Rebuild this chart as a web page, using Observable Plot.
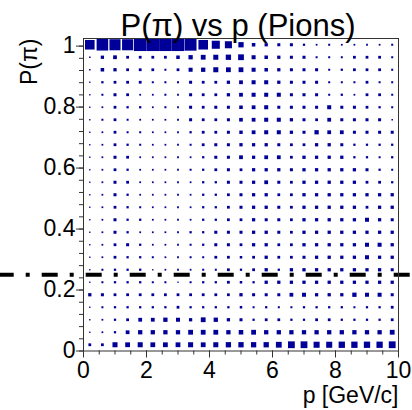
<!DOCTYPE html>
<html><head><meta charset="utf-8">
<script src="https://cdn.jsdelivr.net/npm/d3@7"></script>
<script src="https://cdn.jsdelivr.net/npm/@observablehq/plot@0.6"></script>
<style>body{margin:0;background:#fff}</style>
</head><body><div id="chart"></div>
<script>
const title = "P(π) vs p (Pions)";
const xLabel = "p [GeV/c]";
const yLabel = "P(π)";
const xTicks = [0, 2, 4, 6, 8, 10];
const yTicks = [0, 0.2, 0.4, 0.6, 0.8, 1];
const cutValue = [0.25];

// bin centres
const pCenters = [0.2,0.6,1.0,1.4,1.8,2.2,2.6,3.0,3.4,3.8,4.2,4.6,5.0,5.4,5.8,6.2,6.6,7.0,7.4,7.8,8.2,8.6,9.0,9.4,9.8];
const probCenters = [0.0205,0.0615,0.1025,0.1435,0.1845,0.2255,0.2665,0.3075,0.3485,0.3895,0.4305,0.4715,0.5125,0.5535,0.5945,0.6355,0.6765,0.7175,0.7585,0.7995,0.8405,0.8815,0.9225,0.9635,1.0045];

// bin contents (relative), rows listed from top (P≈1) to bottom (P≈0)
const counts = [
[76,92,88,88,100,100,100,100,94,76,64,56,42,28,26,24,24,18,14,16,14,14,14,14,16],
[12,26,30,22,22,22,22,28,34,38,40,42,46,32,28,26,24,24,16,16,16,22,22,22,16],
[12,28,26,22,22,22,16,22,32,34,40,38,38,32,28,26,24,24,24,16,18,22,22,22,16],
[10,18,22,22,22,16,16,16,24,22,22,26,30,32,32,26,24,24,24,16,16,16,22,16,16],
[10,16,24,22,14,14,16,14,24,22,22,26,30,32,32,32,24,24,24,16,18,14,22,22,16],
[10,14,22,18,18,14,16,14,24,22,24,24,28,30,32,24,24,24,24,32,24,24,22,18,16],
[10,16,22,16,14,14,14,14,24,22,22,24,29,30,32,32,26,24,22,30,24,24,24,24,12],
[10,14,22,16,16,14,14,14,18,22,22,24,27,30,32,32,26,24,34,30,30,24,24,24,24],
[10,14,22,18,16,14,14,14,16,22,24,24,26,26,26,24,22,22,26,26,24,18,18,18,18],
[10,14,24,22,14,14,14,14,14,18,24,24,30,26,30,30,22,26,26,26,26,18,18,16,18],
[10,14,22,18,14,14,14,14,16,18,22,24,22,26,26,26,24,26,26,26,26,26,24,18,16],
[10,14,24,22,14,14,14,14,14,18,18,24,24,26,30,24,22,26,26,26,26,26,22,22,18],
[10,14,24,18,14,14,14,14,14,18,18,22,24,26,26,22,22,26,26,26,26,26,26,26,26],
[10,14,22,18,16,14,14,14,14,18,18,22,24,26,26,24,22,26,26,26,26,26,22,26,26],
[10,14,24,18,18,14,14,14,14,18,18,22,22,26,24,24,22,26,26,26,26,26,32,26,24],
[10,14,24,18,14,14,14,14,18,18,24,24,24,26,26,24,22,26,26,26,26,26,26,26,26],
[10,14,22,24,18,14,14,14,16,18,24,24,22,26,26,22,22,26,26,26,26,26,32,32,26],
[10,14,22,18,18,16,14,14,16,16,22,22,20,22,26,22,22,24,26,26,26,26,32,26,26],
[10,16,18,18,18,10,14,14,14,16,16,22,18,22,26,18,26,26,26,26,26,26,26,26,24],
[10,16,18,18,18,16,16,10,16,18,18,22,20,18,26,26,26,26,26,26,26,26,26,26,26],
[26,24,22,22,22,22,22,22,22,22,22,22,26,24,24,24,30,32,26,26,26,34,32,32,24],
[10,16,18,18,18,18,18,22,18,18,18,18,20,16,18,16,16,18,18,18,18,16,18,18,22],
[10,14,18,22,30,30,34,32,26,38,34,26,24,18,22,22,18,18,22,22,18,18,18,18,22],
[10,14,18,30,34,34,34,34,38,38,38,34,36,38,34,34,34,34,34,34,34,34,34,34,38],
[22,22,40,38,40,38,38,38,40,38,40,42,42,42,42,46,54,54,48,48,50,50,50,50,54]
];

const cells = counts.flatMap((row, i) =>
  row.map((c, j) => ({p: pCenters[j], prob: probCenters[probCenters.length - 1 - i], count: c}))
);

const xMinor = d3.range(0, 21).map(k => k * 0.5);
const yMinor = d3.range(0, 26).map(k => +(k * 0.04).toFixed(2));
const font = "'Liberation Sans', Arial, Helvetica, sans-serif";
const binSide = 12.6;

const chart = Plot.plot({
  width: 412,
  height: 410,
  marginLeft: 83,
  marginRight: 14,
  marginTop: 38,
  marginBottom: 59.5,
  style: {fontFamily: font, fontSize: "23px", color: "black", background: "white"},
  x: {domain: [0, 10]},
  y: {domain: [0, 1.025]},
  r: {type: "linear", domain: [0, 100], range: [0, binSide / Math.sqrt(Math.PI)]},
  marks: [
    Plot.dot(cells, {x: "p", y: "prob", r: "count", symbol: "square", fill: "#000099"}),
    Plot.ruleY(cutValue, {stroke: "black", strokeWidth: 4, strokeDasharray: "16,12,4,12", strokeDashoffset: 2.3, insetLeft: -83, insetRight: -14}),
    Plot.frame({stroke: "#333"}),
    Plot.axisX({ticks: xMinor, tickSize: 4, tickFormat: () => "", label: null, stroke: "#333"}),
    Plot.axisX({ticks: xTicks, tickSize: 7, tickPadding: 4, tickFormat: d => String(d), label: null, fontSize: 23, stroke: "#333"}),
    Plot.axisY({ticks: yMinor, tickSize: 4, tickFormat: () => "", label: null, stroke: "#333"}),
    Plot.axisY({ticks: yTicks, tickSize: 7, tickPadding: 1, tickFormat: d => String(d), label: null, fontSize: 23, stroke: "#333"}),
    Plot.text([title], {frameAnchor: "top", dx: -3, dy: -3, lineAnchor: "bottom", fontSize: 31, fill: "black"}),
    Plot.text([xLabel], {frameAnchor: "bottom-right", dy: 51.5, lineAnchor: "bottom", textAnchor: "end", fontSize: 23, fill: "black"}),
    Plot.text([yLabel], {frameAnchor: "top-left", dx: -47, rotate: -90, lineAnchor: "bottom", textAnchor: "end", fontSize: 23, fill: "black"})
  ]
});
document.getElementById("chart").appendChild(chart);
</script>
</body></html>
